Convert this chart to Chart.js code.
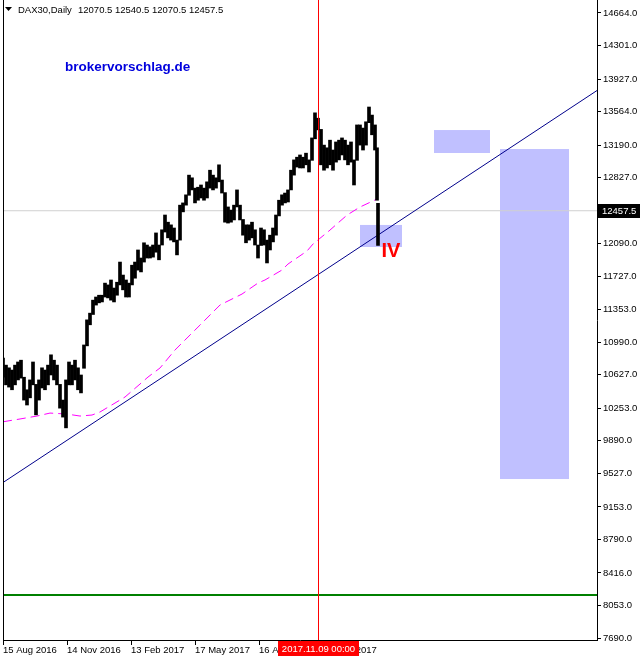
<!DOCTYPE html>
<html>
<head>
<meta charset="utf-8">
<script src="https://cdn.jsdelivr.net/npm/chart.js@4.4.1/dist/chart.umd.min.js"></script>
<style>
  body { margin: 0; background: #fff; }
  canvas { display: block; }
</style>
</head>
<body>
<canvas id="daxChart" width="640" height="662"></canvas>
<script>
// DAX30 daily, one sample every 3 trading days (day 0 = 15 Aug 2016)
const barDays = [0,3,6,9,12,15,18,21,24,27,30,33,36,39,42,45,48,51,54,57,60,63,66,69,72,75,78,81,84,87,90,93,96,99,102,105,108,111,114,117,120,123,126,129,132,135,138,141,144,147,150,153,156,159,162,165,168,171,174,177,180,183,186,189,192,195,198,201,204,207,210,213,216,219,222,225,228,231,234,237,240,243,246,249,252,255,258,261,264,267,270,273,276,279,282,285,288,291,294,297,300,303,306,309,312,315,318,321,324,327,330,333,336,339,342,345,348,351,354,357,360,363,366,369,372,374,375];
const barLow = [10600,10515,10490,10460,10515,10570,10590,10345,10290,10370,10515,10180,10345,10480,10460,10515,10625,10570,10515,10255,10155,10035,10515,10515,10570,10460,10425,10700,10950,11185,11300,11405,11430,11440,11495,11485,11460,11440,11515,11630,11575,11495,11495,11630,11705,11795,11775,11885,11930,11930,11940,11995,11910,12075,12220,12155,12130,12110,11965,12130,12445,12520,12630,12690,12545,12575,12600,12575,12600,12710,12690,12710,12780,12655,12330,12320,12330,12355,12500,12355,12185,12100,12130,12155,12075,11930,12070,12075,11875,12020,12110,12185,12400,12520,12545,12555,12690,12855,12945,12935,12935,12970,12890,13020,13260,13360,12970,12910,12935,12970,12910,13000,13025,13080,13025,12970,13000,12745,13020,13190,13135,13190,13440,13305,13135,12575,12070.5];
const barHigh = [10815,10735,10705,10680,10735,10770,10790,10600,10460,10570,10770,10520,10570,10705,10680,10735,10850,10790,10735,10520,10345,10570,10770,10735,10790,10705,10625,10960,11240,11315,11460,11495,11515,11515,11650,11630,11685,11595,11660,11885,11740,11685,11650,11850,11885,12020,11930,12100,12075,12055,12075,12210,12075,12245,12410,12330,12300,12265,12130,12520,12545,12635,12855,12825,12710,12720,12745,12710,12780,12910,12855,12825,12970,12800,12660,12500,12465,12520,12690,12520,12360,12300,12300,12330,12245,12075,12265,12245,12130,12185,12265,12410,12575,12635,12655,12690,12910,13025,13055,13080,13055,13100,13025,13270,13550,13490,13365,13190,13160,13245,13135,13225,13245,13270,13245,13190,13225,13025,13415,13415,13380,13450,13615,13525,13415,13160,12540.5];

// moving average (magenta dashed)
const maDays = [0,17,34,47,64,77,89,97,112,122,137,145,157,172,197,217,239,255,262,279,285,304,310,327,344,357,374];
const maValues = [10103,10134,10167,10200,10189,10167,10178,10212,10312,10379,10524,10602,10703,10904,11182,11406,11528,11651,11685,11796,11863,12008,12086,12242,12409,12499,12588];

// trend line (two anchor points)
const trendDays = [0, 594];
const trendValues = [9425, 13799];

// horizontal / vertical levels
const bidPrice = 12457.5;
const supportPrice = 8170;
const markerDay = 315.5;
const markerLabel = '2017.11.09 00:00';

// rectangles
const rectDayFrom = [357, 431, 497];
const rectDayTo = [399, 487, 566];
const rectHigh = [12299, 13358, 13146];
const rectLow = [12053, 13102, 9464];

// axis ticks
const tickDays = [0, 64, 128, 192, 256, 320];
const tickLabels = ['15 Aug 2016', '14 Nov 2016', '13 Feb 2017', '17 May 2017', '16 Aug 2017', '14 Nov 2017'];
const priceTicks = [14664, 14301, 13927, 13564, 13190, 12827, 12090, 11727, 11353, 10990, 10627, 10253, 9890, 9527, 9153, 8790, 8416, 8053, 7690];

const headerText = 'DAX30,Daily';
const ohlcText = '12070.5 12540.5 12070.5 12457.5';
const waveLabel = 'IV';
const waveDay = 388;
const wavePrice = 12008;

const FONT = '"Liberation Sans", Arial, sans-serif';
const yMin = 7668, yMax = 14809;

const overlayPlugin = {
    id: 'overlay',
    beforeDatasetsDraw(chart) {
        const { ctx, scales: { x, y } } = chart;
        ctx.save();
        ctx.fillStyle = '#C0C0FF';
        for (let i = 0; i < rectDayFrom.length; i++) {
            const x1 = x.getPixelForValue(rectDayFrom[i]);
            const x2 = x.getPixelForValue(rectDayTo[i]);
            const y1 = y.getPixelForValue(rectHigh[i]);
            const y2 = y.getPixelForValue(rectLow[i]);
            ctx.fillRect(x1, y1, x2 - x1, y2 - y1);
        }
        ctx.restore();
    },
    afterDraw(chart) {
        const { ctx, chartArea, scales: { x, y } } = chart;
        ctx.save();
        // left frame line
        ctx.fillStyle = '#000';
        ctx.fillRect(chartArea.left, chartArea.top, 1, chartArea.bottom - chartArea.top);

        // header
        ctx.beginPath();
        ctx.moveTo(5, 7);
        ctx.lineTo(12, 7);
        ctx.lineTo(8.5, 11);
        ctx.closePath();
        ctx.fill();
        ctx.font = '9.5px ' + FONT;
        ctx.textBaseline = 'middle';
        ctx.textAlign = 'left';
        ctx.fillText(headerText, 18, 10);
        ctx.fillText(ohlcText, 78, 10);

        // watermark
        ctx.font = 'bold 13.5px ' + FONT;
        ctx.fillStyle = '#0000DD';
        ctx.fillText('brokervorschlag.de', 65, 67);

        // wave label
        ctx.font = 'bold 20px ' + FONT;
        ctx.fillStyle = '#FF0000';
        ctx.textAlign = 'center';
        ctx.fillText(waveLabel, x.getPixelForValue(waveDay), y.getPixelForValue(wavePrice));

        // bid price box on the axis
        const by = Math.round(y.getPixelForValue(bidPrice));
        ctx.fillStyle = '#000';
        ctx.fillRect(chartArea.right + 1, by - 7, 43, 14);
        ctx.fillStyle = '#fff';
        ctx.font = '9.5px ' + FONT;
        ctx.textAlign = 'left';
        ctx.fillText(bidPrice.toFixed(1), chartArea.right + 5, by);

        // time marker label
        const mx = x.getPixelForValue(markerDay);
        ctx.font = '9.5px ' + FONT;
        const w = ctx.measureText(markerLabel).width + 8;
        ctx.fillStyle = '#FF0000';
        ctx.fillRect(Math.round(mx - w / 2), chartArea.bottom + 1, Math.round(w), 15);
        ctx.fillStyle = '#fff';
        ctx.textAlign = 'center';
        ctx.fillText(markerLabel, mx, chartArea.bottom + 9);
        ctx.restore();
    }
};

function lineData(days, values) {
    return days.map((d, i) => ({ x: d, y: values[i] }));
}

const ctx = document.getElementById('daxChart').getContext('2d');
new Chart(ctx, {
    type: 'bar',
    data: {
        datasets: [
            {
                type: 'line',
                data: lineData([markerDay, markerDay], [yMin, yMax]),
                borderColor: '#FF0000',
                borderWidth: 1,
                pointRadius: 0,
                order: 0
            },
            {
                type: 'bar',
                data: barDays.map((d, i) => ({ x: d, y: [barLow[i], barHigh[i]] })),
                backgroundColor: '#000',
                borderWidth: 0,
                barThickness: 3,
                order: 1
            },
            {
                type: 'line',
                data: lineData([0, 594], [supportPrice, supportPrice]),
                borderColor: '#008000',
                borderWidth: 2,
                pointRadius: 0,
                order: 2
            },
            {
                type: 'line',
                data: lineData(trendDays, trendValues),
                borderColor: '#00008B',
                borderWidth: 1,
                pointRadius: 0,
                order: 3
            },
            {
                type: 'line',
                data: lineData(maDays, maValues),
                borderColor: '#FF00FF',
                borderWidth: 1,
                borderDash: [9, 5],
                pointRadius: 0,
                order: 4
            },
            {
                type: 'line',
                data: lineData([0, 594], [bidPrice, bidPrice]),
                borderColor: '#D0D0D0',
                borderWidth: 1,
                pointRadius: 0,
                order: 5
            }
        ]
    },
    options: {
        responsive: false,
        animation: false,
        layout: { padding: { left: 3, top: 0, right: 0, bottom: 0 } },
        plugins: { legend: { display: false }, tooltip: { enabled: false } },
        scales: {
            x: {
                type: 'linear',
                min: 0,
                max: 594,
                offset: false,
                grid: { drawOnChartArea: false, drawTicks: true, tickLength: 5, color: '#000', offset: false },
                border: { display: true, color: '#000' },
                afterBuildTicks: s => { s.ticks = tickDays.map(v => ({ value: v })); },
                afterFit: s => { s.height = 22; s.paddingLeft = 0; s.paddingRight = 0; },
                ticks: {
                    autoSkip: false,
                    maxRotation: 0,
                    align: 'start',
                    padding: 0,
                    color: '#000',
                    font: { family: FONT, size: 9.5 },
                    callback: v => tickLabels[tickDays.indexOf(v)]
                }
            },
            y: {
                position: 'right',
                min: yMin,
                max: yMax,
                grid: { drawOnChartArea: false, drawTicks: true, tickLength: 4, color: '#000' },
                border: { display: true, color: '#000' },
                afterBuildTicks: s => { s.ticks = priceTicks.map(v => ({ value: v })); },
                afterFit: s => { s.width = 43; s.paddingTop = 0; s.paddingBottom = 0; },
                ticks: {
                    autoSkip: false,
                    padding: 2,
                    color: '#000',
                    font: { family: FONT, size: 9.5 },
                    callback: v => v.toFixed(1)
                }
            }
        }
    },
    plugins: [overlayPlugin]
});
</script>
</body>
</html>
